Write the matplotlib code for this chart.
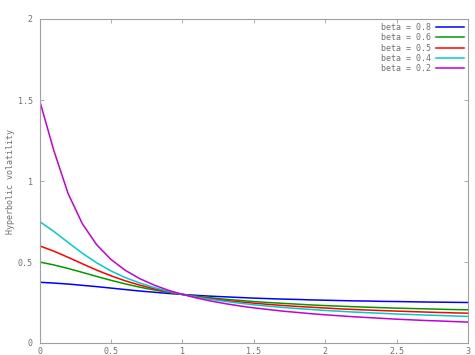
import matplotlib
matplotlib.use("Agg")
import matplotlib.pyplot as plt

x = [0.0, 0.1, 0.2, 0.3, 0.4, 0.5, 0.6, 0.7, 0.8, 0.9, 1.0,
     1.1, 1.2, 1.3, 1.4, 1.5, 1.6, 1.7, 1.8, 1.9, 2.0,
     2.1, 2.2, 2.3, 2.4, 2.5, 2.6, 2.7, 2.8, 2.9, 3.0]

beta_08 = [0.375, 0.370, 0.364, 0.356, 0.348, 0.339, 0.330, 0.321, 0.3135, 0.306, 0.300,
           0.294, 0.289, 0.285, 0.281, 0.277, 0.274, 0.271, 0.269, 0.266, 0.264,
           0.262, 0.260, 0.259, 0.257, 0.256, 0.2545, 0.253, 0.252, 0.251, 0.250]
beta_06 = [0.500, 0.482, 0.460, 0.436, 0.411, 0.387, 0.365, 0.345, 0.328, 0.313, 0.300,
           0.289, 0.279, 0.270, 0.263, 0.256, 0.250, 0.245, 0.240, 0.235, 0.231,
           0.2275, 0.224, 0.221, 0.218, 0.215, 0.213, 0.211, 0.2085, 0.2065, 0.205]
beta_05 = [0.600, 0.567, 0.529, 0.489, 0.450, 0.415, 0.384, 0.3575, 0.335, 0.316, 0.300,
           0.286, 0.274, 0.263, 0.254, 0.246, 0.2385, 0.232, 0.226, 0.221, 0.216,
           0.211, 0.207, 0.2035, 0.200, 0.197, 0.194, 0.191, 0.1885, 0.186, 0.184]
beta_04 = [0.750, 0.689, 0.621, 0.554, 0.495, 0.445, 0.404, 0.371, 0.343, 0.320, 0.300,
           0.283, 0.269, 0.257, 0.246, 0.236, 0.2275, 0.220, 0.213, 0.207, 0.201,
           0.196, 0.191, 0.187, 0.183, 0.179, 0.176, 0.1725, 0.170, 0.167, 0.164]
beta_02 = [1.500, 1.189, 0.923, 0.736, 0.607, 0.516, 0.449, 0.398, 0.3585, 0.326, 0.300,
           0.278, 0.259, 0.243, 0.229, 0.217, 0.207, 0.197, 0.189, 0.181, 0.174,
           0.168, 0.162, 0.157, 0.152, 0.147, 0.143, 0.139, 0.136, 0.1325, 0.129]

series = [("beta = 0.8", beta_08, "#0000ff"),
          ("beta = 0.6", beta_06, "#009a00"),
          ("beta = 0.5", beta_05, "#ff0000"),
          ("beta = 0.4", beta_04, "#00cccc"),
          ("beta = 0.2", beta_02, "#c400d4")]

xticks = [0, 0.5, 1, 1.5, 2, 2.5, 3]
xticklabels = ["0", "0.5", "1", "1.5", "2", "2.5", "3"]
yticks = [0, 0.5, 1, 1.5, 2]
yticklabels = ["0", "0.5", "1", "1.5", "2"]

txtcol = "#707070"
font = "DejaVu Sans Mono"

fig = plt.figure(figsize=(4.75, 3.55), dpi=100)
ax = fig.add_axes([39.5 / 475, 1 - 343 / 355, (468 - 39.5) / 475, (343 - 19) / 355])

for label, vals, col in series:
    ax.plot(x, vals, color=col, lw=1.1, label=label)

ax.set_xlim(0, 3)
ax.set_ylim(0, 2)
ax.set_xticks(xticks)
ax.set_xticklabels(xticklabels)
ax.set_yticks(yticks)
ax.set_yticklabels(yticklabels)
ax.tick_params(direction="in", length=3, width=0.6, colors="#a0a0a0",
               labelcolor=txtcol, labelsize=6)
ax.tick_params(axis="x", pad=3)
ax.tick_params(axis="y", pad=5)
for lbl in ax.get_xticklabels() + ax.get_yticklabels():
    lbl.set_fontfamily(font)
ax.tick_params(top=True, right=True)
for s in ax.spines.values():
    s.set_color("#a0a0a0")
    s.set_linewidth(0.8)

ax.set_ylabel("Hyperbolic volatility", fontsize=6, color=txtcol, family=font, labelpad=2)

leg = ax.legend(loc="upper right", frameon=False, prop={"family": font, "size": 6},
                markerfirst=False, handlelength=3.4, handletextpad=0.5,
                labelspacing=0.15, borderaxespad=0.3, borderpad=0.2)
for t in leg.get_texts():
    t.set_color(txtcol)

fig.savefig("out.png", dpi=100)
